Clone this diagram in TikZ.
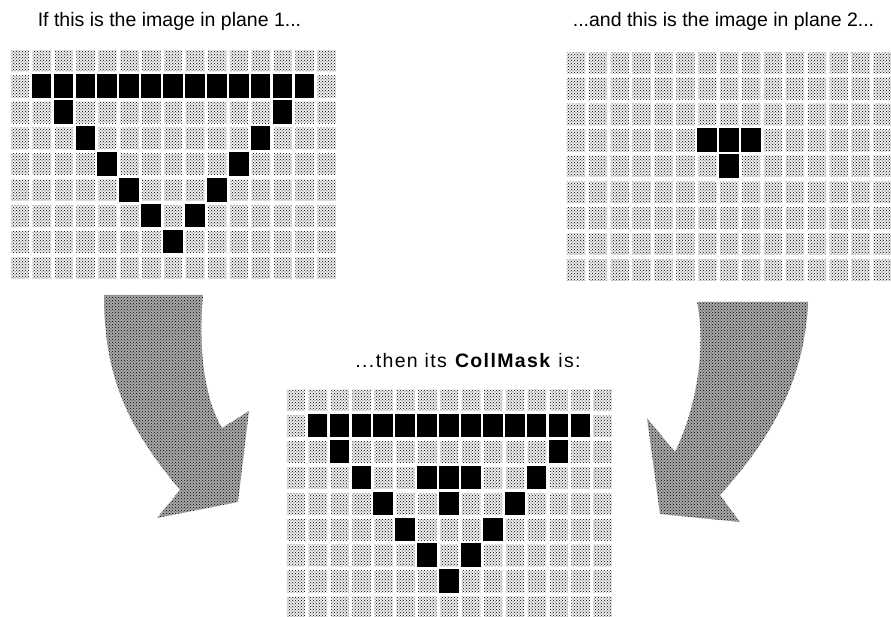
\documentclass[tikz,border=0pt]{standalone}
\usepackage{fontspec}
\setmainfont{Liberation Sans}
\newfontfamily\capfont{Liberation Sans}
\usetikzlibrary{patterns}

\begin{document}
\begin{tikzpicture}[x=1pt, y=-1pt,
  plane/.style={x=21.9pt, y=-25.9pt},
  cell/.style={preaction={fill=black!7}, pattern=crosshatch dots, pattern color=black},
  pix/.style={fill=black},
  caption/.style={anchor=base, inner sep=0pt, font=\capfont\fontsize{19.5}{22}\selectfont},
  swoop/.style={preaction={fill=black!34}, pattern=crosshatch dots, pattern color=black}]
  \useasboundingbox (0,0) rectangle (891,617);

  % captions
  \node[caption] (cap1) at (169.5,26.5) {If this is the image in plane 1...};
  \node[caption] (cap2) at (723.5,26.5) {...and this is the image in plane 2...};
  \node[caption] (cap3) at (468,367) {\addfontfeature{LetterSpace=7}...then its \textbf{CollMask} is:};

  % plane 1
  \begin{scope}[shift={(9,48)}, plane]
    \foreach \c in {0,...,14}
      \foreach \r in {0,...,8}
        \fill[cell] (\c+0.08,\r+0.08) rectangle ++(0.84,0.82);
    \foreach \c in {1,...,13}
      \fill[pix] (\c+0.04,1.02) rectangle ++(0.9,0.91);
    \foreach \r in {2,...,7} {
      \fill[pix] (\r+0.04,\r+0.02) rectangle ++(0.9,0.91);
      \fill[pix] (14-\r+0.04,\r+0.02) rectangle ++(0.9,0.91);
    }
  \end{scope}

  % plane 2
  \begin{scope}[shift={(565,50)}, plane]
    \foreach \c in {0,...,14}
      \foreach \r in {0,...,8}
        \fill[cell] (\c+0.08,\r+0.08) rectangle ++(0.84,0.82);
    \foreach \c/\r in {6/3,7/3,8/3,7/4}
      \fill[pix] (\c+0.04,\r+0.02) rectangle ++(0.9,0.91);
  \end{scope}

  % collision mask
  \begin{scope}[shift={(285,387.5)}, plane]
    \foreach \c in {0,...,14}
      \foreach \r in {0,...,8}
        \fill[cell] (\c+0.08,\r+0.08) rectangle ++(0.84,0.82);
    \foreach \c in {1,...,13}
      \fill[pix] (\c+0.04,1.02) rectangle ++(0.9,0.91);
    \foreach \r in {2,...,7} {
      \fill[pix] (\r+0.04,\r+0.02) rectangle ++(0.9,0.91);
      \fill[pix] (14-\r+0.04,\r+0.02) rectangle ++(0.9,0.91);
    }
    \foreach \c/\r in {6/3,7/3,8/3,7/4}
      \fill[pix] (\c+0.04,\r+0.02) rectangle ++(0.9,0.91);
  \end{scope}

  % curved arrows
  \fill[swoop] (104,295) -- (203,295) .. controls (198,350) and (205,400) .. (222,428)
    -- (249,411) -- (238,502) -- (157,518) -- (180,490)
    .. controls (130,430) and (104,380) .. cycle;
  \fill[swoop] (697,302) -- (808,302) .. controls (805,380) and (770,440) .. (720,495)
    -- (740,522) -- (660,514) -- (647,418) -- (675,452)
    .. controls (700,400) and (705,340) .. cycle;
\end{tikzpicture}
\end{document}
